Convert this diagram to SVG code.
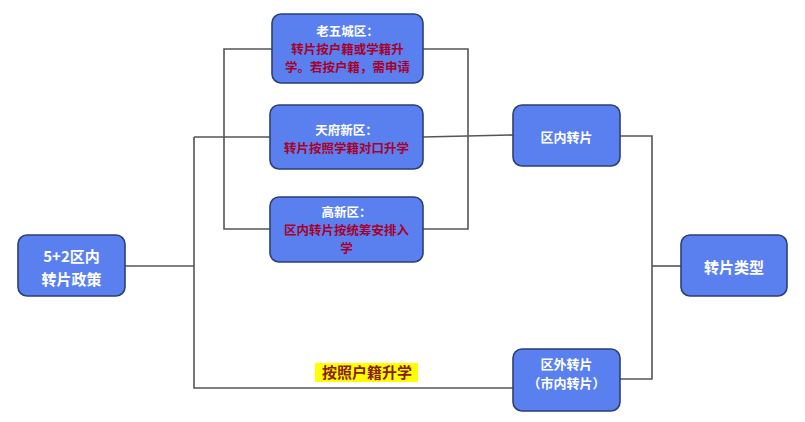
<svg xmlns="http://www.w3.org/2000/svg" width="805" height="422" viewBox="0 0 805 422">
<style>
.box{fill:#5a80f0;stroke:#2d3f73;stroke-width:1.6}
.w{fill:#ffffff;font-family:"Noto Sans CJK SC","Noto Sans",sans-serif;font-weight:bold;text-anchor:middle}
.r{fill:#a8002a;font-family:"Noto Sans CJK SC","Noto Sans",sans-serif;font-weight:bold;text-anchor:middle}
.ln{fill:none;stroke:#555555;stroke-width:1.6}
</style>
<rect width="805" height="422" fill="#ffffff"/>
<g id="connectors">
<polyline class="ln" points="125,266 194,266"/>
<polyline class="ln" points="194,137 194,388 513,388"/>
<polyline class="ln" points="194,137 270,137"/>
<polyline class="ln" points="272,49 224,49 224,229 270,229"/>
<polyline class="ln" points="423,49 468,49 468,229 423,229"/>
<polyline class="ln" points="423,137 513,135"/>
<polyline class="ln" points="620,136 652,136 652,379 620,379"/>
<polyline class="ln" points="652,266 681,266"/>
</g>
<g id="label-huji">
<rect x="315" y="363" width="103" height="19" fill="#ffff00"/>
<text x="367" y="378" font-size="15" fill="#8b1a00" font-family="Noto Sans CJK SC,Noto Sans,sans-serif" font-weight="bold" text-anchor="middle">按照户籍升学</text>
</g>
<g id="node-policy">
<rect class="box" x="18" y="235" width="107" height="61" rx="9"/>
<text class="w" x="71.5" y="262" font-size="15">5+2区内</text>
<text class="w" x="71.5" y="285" font-size="15">转片政策</text>
</g>
<g id="node-laowu">
<rect class="box" x="272" y="14" width="151" height="69" rx="9"/>
<text class="w" x="347.5" y="36" font-size="12.5">老五城区：</text>
<text class="r" x="347.5" y="54" font-size="12.5">转片按户籍或学籍升</text>
<text class="r" x="347.5" y="72" font-size="12.5">学。若按户籍，需申请</text>
</g>
<g id="node-tianfu">
<rect class="box" x="270" y="105" width="153" height="64" rx="9"/>
<text class="w" x="346.5" y="135" font-size="12.5">天府新区：</text>
<text class="r" x="346.5" y="153" font-size="12.5">转片按照学籍对口升学</text>
</g>
<g id="node-gaoxin">
<rect class="box" x="270" y="197" width="153" height="65" rx="9"/>
<text class="w" x="346.5" y="217" font-size="12.5">高新区：</text>
<text class="r" x="346.5" y="235" font-size="12.5">区内转片按统筹安排入</text>
<text class="r" x="346.5" y="253" font-size="12.5">学</text>
</g>
<g id="node-qunei">
<rect class="box" x="513" y="105" width="107" height="61" rx="9"/>
<text class="w" x="566.5" y="142" font-size="13">区内转片</text>
</g>
<g id="node-quwai">
<rect class="box" x="513" y="349" width="107" height="62" rx="9"/>
<text class="w" x="566.5" y="369" font-size="13">区外转片</text>
<text class="w" x="566.5" y="388" font-size="13">（市内转片）</text>
</g>
<g id="node-type">
<rect class="box" x="681" y="235" width="106" height="61" rx="9"/>
<text class="w" x="734" y="273" font-size="15">转片类型</text>
</g>
</svg>
